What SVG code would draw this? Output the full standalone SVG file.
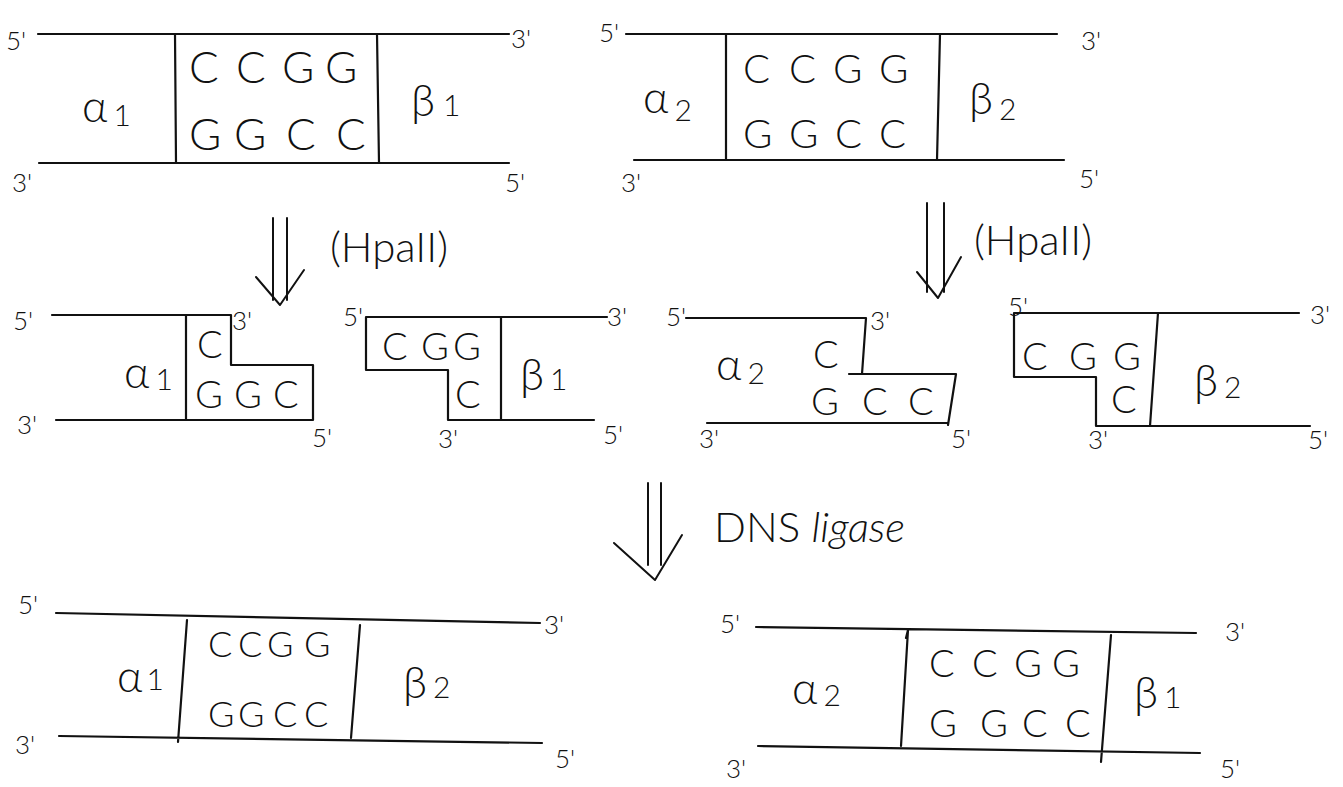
<svg xmlns="http://www.w3.org/2000/svg" width="1343" height="787" viewBox="0 0 1343 787">
  <style>
    .strand { fill: none; stroke: #111; stroke-width: 2.2; stroke-linecap: round; stroke-linejoin: round; }
    .arrow { fill: none; stroke: #111; stroke-width: 2; stroke-linecap: round; stroke-linejoin: round; }
    text { font-family: "Lato", "Noto Sans", "DejaVu Sans", sans-serif; font-weight: 300; fill: #111; }
    .end { font-size: 26px; }
    .b44 { font-size: 44px; }
    .b40 { font-size: 40px; }
    .b38 { font-size: 38px; }
    .b36 { font-size: 36px; }
    .seg { font-size: 44px; }
    .sub { font-size: 30px; }
    .note { font-size: 42px; }
    .cursive { font-style: italic; }
  </style>

  <!-- Parent molecule 1: alpha1 - CCGG - beta1 -->
  <g id="mol-a1-b1">
    <path class="strand" d="M38,34 H509 M39,163 H509 M175,34 L176,163 M377,34 L379,163"/>
    <text class="end" x="6" y="50">5'</text>
    <text class="end" x="511" y="48">3'</text>
    <text class="end" x="12" y="192">3'</text>
    <text class="end" x="505" y="192">5'</text>
    <text class="b44" x="189 236 282 325" y="83">CCGG</text>
    <text class="b44" x="189 234 286 336" y="150">GGCC</text>
    <text class="seg" x="82" y="122">α<tspan class="sub" dx="6" dy="4">1</tspan></text>
    <text class="seg" x="411" y="116">β<tspan class="sub" dx="8" dy="0">1</tspan></text>
  </g>

  <!-- Parent molecule 2: alpha2 - CCGG - beta2 -->
  <g id="mol-a2-b2">
    <path class="strand" d="M626,34 H1057 M634,160 H1064 M726,34 V160 M940,34 L937,160"/>
    <text class="end" x="599" y="42">5'</text>
    <text class="end" x="1081" y="50">3'</text>
    <text class="end" x="621" y="192">3'</text>
    <text class="end" x="1079" y="188">5'</text>
    <text class="b40" x="743 789 833 879" y="83">CCGG</text>
    <text class="b40" x="743 789 835 879" y="148">GGCC</text>
    <text class="seg" x="643" y="113">α<tspan class="sub" dx="6" dy="8">2</tspan></text>
    <text class="seg" x="969" y="114">β<tspan class="sub" dx="6" dy="6">2</tspan></text>
  </g>

  <!-- HpaII fragment: alpha1 with 5' CG overhang -->
  <g id="frag-a1">
    <path class="strand" d="M52,315 H231 V365 H313 V420 H56 M186,315 V420"/>
    <text class="end" x="13" y="330">5'</text>
    <text class="end" x="232" y="330">3'</text>
    <text class="end" x="17" y="434">3'</text>
    <text class="end" x="312" y="447">5'</text>
    <text class="b38" x="197" y="358">C</text>
    <text class="b38" x="195 234 273" y="408">GGC</text>
    <text class="seg" x="124" y="388">α<tspan class="sub" dx="6" dy="2">1</tspan></text>
  </g>

  <!-- HpaII fragment: beta1 with 5' CG overhang -->
  <g id="frag-b1">
    <path class="strand" d="M607,317 H366 V370 H448 V420 H594 M501,317 V420"/>
    <text class="end" x="343" y="326">5'</text>
    <text class="end" x="607" y="326">3'</text>
    <text class="end" x="438" y="448">3'</text>
    <text class="end" x="603" y="444">5'</text>
    <text class="b38" x="382 421 453" y="360">CGG</text>
    <text class="b38" x="455" y="408">C</text>
    <text class="seg" x="520" y="390">β<tspan class="sub" dx="6">1</tspan></text>
  </g>

  <!-- HpaII fragment: alpha2 with 5' CG overhang -->
  <g id="frag-a2">
    <path class="strand" d="M686,318 H866 L862,374 M849,374 H956 L948,425 M707,423 H948"/>
    <text class="end" x="666" y="326">5'</text>
    <text class="end" x="870" y="330">3'</text>
    <text class="end" x="699" y="448">3'</text>
    <text class="end" x="951" y="448">5'</text>
    <text class="b38" x="813" y="368">C</text>
    <text class="b38" x="811 862 908" y="415">GCC</text>
    <text class="seg" x="716" y="380">α<tspan class="sub" dx="6" dy="4">2</tspan></text>
  </g>

  <!-- HpaII fragment: beta2 with 5' CG overhang -->
  <g id="frag-b2">
    <path class="strand" d="M1299,313 H1014 V377 H1096 V426 H1310 M1158,313 L1150,426"/>
    <text class="end" x="1008" y="316">5'</text>
    <text class="end" x="1310" y="324">3'</text>
    <text class="end" x="1088" y="449">3'</text>
    <text class="end" x="1308" y="449">5'</text>
    <text class="b38" x="1022 1069 1113" y="370">CGG</text>
    <text class="b38" x="1111" y="413">C</text>
    <text class="seg" x="1194" y="396">β<tspan class="sub" dx="6" dy="2">2</tspan></text>
  </g>

  <!-- Ligation product: alpha1 - CCGG - beta2 -->
  <g id="mol-a1-b2">
    <path class="strand" d="M56,613 L540,623 M59,736 L542,743 M187,620 L178,742 M360,625 L351,738"/>
    <text class="end" x="18" y="614">5'</text>
    <text class="end" x="544" y="634">3'</text>
    <text class="end" x="15" y="754">3'</text>
    <text class="end" x="555" y="768">5'</text>
    <text class="b36" x="208 238 267 304" y="657">CCGG</text>
    <text class="b36" x="208 238 273 304" y="727">GGCC</text>
    <text class="seg" x="117" y="692">α<tspan class="sub" dx="4" dy="-2">1</tspan></text>
    <text class="seg" x="403" y="698">β<tspan class="sub" dx="6">2</tspan></text>
  </g>

  <!-- Ligation product: alpha2 - CCGG - beta1 -->
  <g id="mol-a2-b1">
    <path class="strand" d="M756,627 L1196,633 M758,746 L1200,753 M906,638 L908,630 L901,746 M1111,635 L1101,762"/>
    <text class="end" x="720" y="633">5'</text>
    <text class="end" x="1225" y="641">3'</text>
    <text class="end" x="726" y="778">3'</text>
    <text class="end" x="1220" y="778">5'</text>
    <text class="b38" x="929 972 1014 1052" y="677">CCGG</text>
    <text class="b38" x="929 980 1022 1065" y="737">GGCC</text>
    <text class="seg" x="792" y="704">α<tspan class="sub" dx="6" dy="2">2</tspan></text>
    <text class="seg" x="1134" y="708">β<tspan class="sub" dx="6">1</tspan></text>
  </g>

  <!-- Reaction arrows with their enzyme labels -->
  <g id="connectors">
    <path class="arrow" d="M273,218 V300 M287,218 V300 M256,277 L280,305 L304,270"/>
    <text class="note" x="330" y="262">(HpaII)</text>

    <path class="arrow" d="M927,203 V292 M944,203 V292 M917,272 L938,298 L961,257"/>
    <text class="note" x="974" y="255">(HpaII)</text>

    <path class="arrow" d="M648,483 V565 M661,483 V565 M614,543 L655,580 L682,535"/>
    <text class="note" x="714" y="542">DNS <tspan class="cursive">ligase</tspan></text>
  </g>
</svg>
